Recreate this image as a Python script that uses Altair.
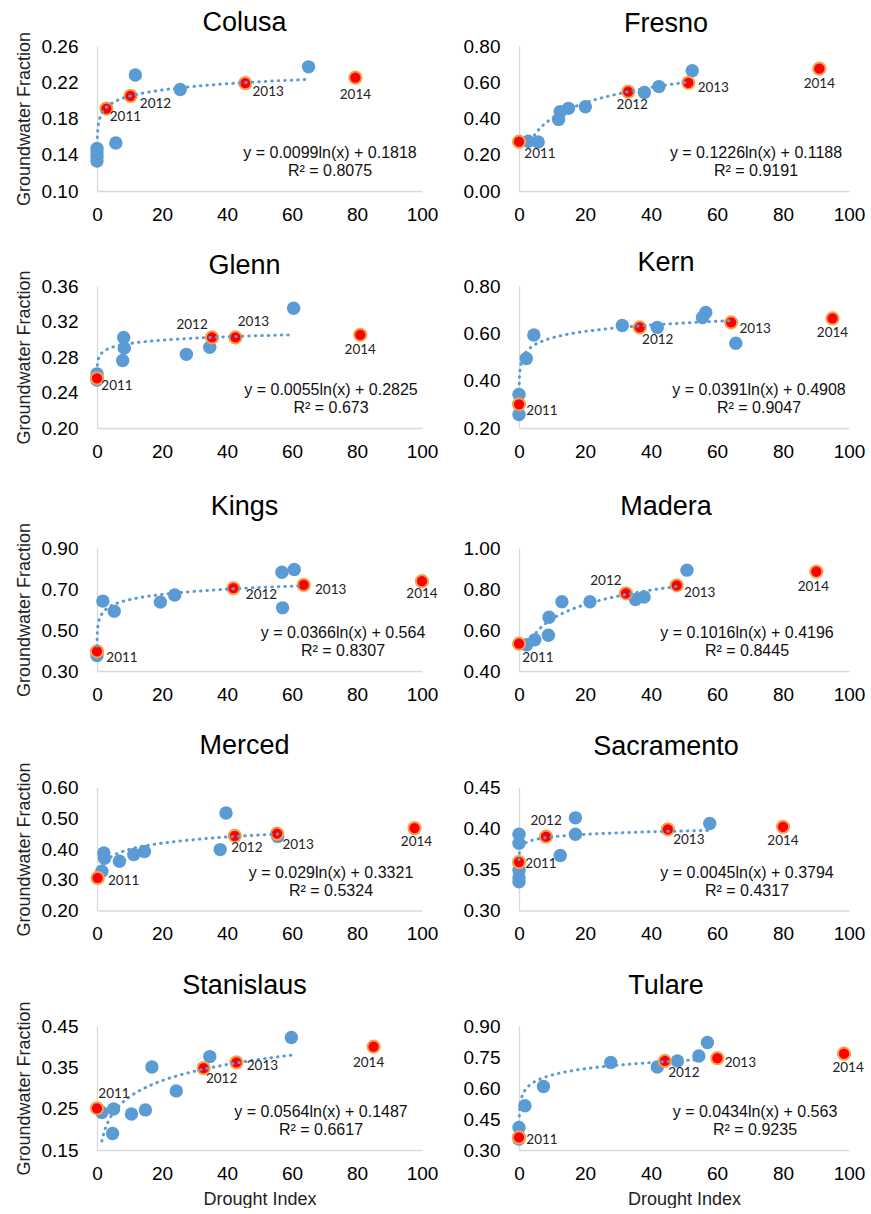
import altair as alt
import pandas as pd

# ---------------- data ----------------
COUNTIES = ["Colusa", "Fresno", "Glenn", "Kern", "Kings",
            "Madera", "Merced", "Sacramento", "Stanislaus", "Tulare"]

BLUE_X = {
    "Colusa": [0, 0, 0, 0, 5.8, 11.8, 25.6, 65.1],
    "Fresno": [2.8, 5.8, 12.0, 12.5, 15.0, 20.1, 38.0, 42.4, 52.5],
    "Glenn": [0, 0, 7.9, 8.2, 8.4, 27.5, 34.7, 60.5],
    "Kern": [0, 0, 2.2, 4.5, 31.3, 41.9, 55.6, 56.6, 65.7],
    "Kings": [0, 1.8, 5.3, 19.5, 23.9, 56.9, 60.7, 57.1],
    "Madera": [2.3, 4.8, 8.9, 9.1, 13.0, 21.5, 35.3, 37.9, 50.9],
    "Merced": [1.5, 2.1, 2.3, 6.9, 11.3, 14.6, 37.9, 39.7, 55.6],
    "Sacramento": [0, 0, 0, 0, 0, 12.5, 17.1, 17.1, 57.8],
    "Stanislaus": [1.5, 5.1, 4.8, 10.6, 14.9, 16.9, 24.4, 34.7, 59.8],
    "Tulare": [0, 0, 1.8, 7.4, 27.8, 41.9, 48.0, 54.5, 57.1],
}
BLUE_Y = {
    "Colusa": [0.147, 0.143, 0.138, 0.133, 0.153, 0.228, 0.212, 0.237],
    "Fresno": [0.275, 0.270, 0.395, 0.438, 0.456, 0.465, 0.543, 0.576, 0.664],
    "Glenn": [0.261, 0.254, 0.276, 0.302, 0.290, 0.283, 0.291, 0.335],
    "Kern": [0.342, 0.257, 0.494, 0.593, 0.633, 0.625, 0.667, 0.688, 0.558],
    "Kings": [0.376, 0.641, 0.592, 0.636, 0.671, 0.782, 0.795, 0.608],
    "Madera": [0.528, 0.552, 0.574, 0.662, 0.738, 0.738, 0.749, 0.761, 0.892],
    "Merced": [0.328, 0.387, 0.370, 0.360, 0.382, 0.392, 0.398, 0.517, 0.441],
    "Sacramento": [0.393, 0.382, 0.349, 0.340, 0.335, 0.367, 0.413, 0.393, 0.406],
    "Stanislaus": [0.241, 0.249, 0.190, 0.237, 0.247, 0.351, 0.293, 0.376, 0.422],
    "Tulare": [0.409, 0.353, 0.514, 0.607, 0.723, 0.702, 0.731, 0.755, 0.820],
}

YEARS = ["2011", "2012", "2013", "2014"]
RED_X = {
    "Colusa": [2.9, 10.3, 45.6, 79.5],
    "Fresno": [0, 33.1, 51.3, 91.0],
    "Glenn": [0, 35.4, 42.6, 81.0],
    "Kern": [0, 36.6, 64.3, 95.0],
    "Kings": [0, 42.0, 63.6, 100.0],
    "Madera": [0, 32.4, 47.8, 90.1],
    "Merced": [0.2, 42.4, 55.4, 97.7],
    "Sacramento": [0, 8.2, 45.1, 80.0],
    "Stanislaus": [0, 32.8, 42.9, 85.1],
    "Tulare": [0, 44.2, 60.1, 98.5],
}
RED_Y = {
    "Colusa": [0.191, 0.205, 0.219, 0.225],
    "Fresno": [0.272, 0.548, 0.597, 0.675],
    "Glenn": [0.256, 0.302, 0.302, 0.305],
    "Kern": [0.300, 0.625, 0.646, 0.663],
    "Kings": [0.396, 0.704, 0.720, 0.738],
    "Madera": [0.533, 0.779, 0.818, 0.885],
    "Merced": [0.306, 0.443, 0.450, 0.468],
    "Sacramento": [0.359, 0.390, 0.399, 0.402],
    "Stanislaus": [0.251, 0.348, 0.362, 0.400],
    "Tulare": [0.361, 0.731, 0.744, 0.766],
}

# logarithmic trend lines as printed on the chart: y = a ln(x) + b
TREND_A = {"Colusa": 0.0099, "Fresno": 0.1226, "Glenn": 0.0055, "Kern": 0.0391,
           "Kings": 0.0366, "Madera": 0.1016, "Merced": 0.029, "Sacramento": 0.0045,
           "Stanislaus": 0.0564, "Tulare": 0.0434}
TREND_B = {"Colusa": 0.1818, "Fresno": 0.1188, "Glenn": 0.2825, "Kern": 0.4908,
           "Kings": 0.564, "Madera": 0.4196, "Merced": 0.3321, "Sacramento": 0.3794,
           "Stanislaus": 0.1487, "Tulare": 0.563}
TREND_R2 = {"Colusa": "0.8075", "Fresno": "0.9191", "Glenn": "0.673", "Kern": "0.9047",
            "Kings": "0.8307", "Madera": "0.8445", "Merced": "0.5324", "Sacramento": "0.4317",
            "Stanislaus": "0.6617", "Tulare": "0.9235"}
TREND_B_TXT = {"Colusa": "0.1818", "Fresno": "0.1188", "Glenn": "0.2825", "Kern": "0.4908",
               "Kings": "0.564", "Madera": "0.4196", "Merced": "0.3321", "Sacramento": "0.3794",
               "Stanislaus": "0.1487", "Tulare": "0.563"}
TREND_RANGE = {"Colusa": [0.1, 64], "Fresno": [2.8, 52], "Glenn": [0.12, 60],
               "Kern": [0.07, 65], "Kings": [0.02, 63.6], "Madera": [2.3, 49],
               "Merced": [1.5, 55.6], "Sacramento": [0.02, 57.8],
               "Stanislaus": [1.5, 59.8], "Tulare": [0.05, 57]}

Y_TICKS = {
    "Colusa": [0.10, 0.14, 0.18, 0.22, 0.26],
    "Fresno": [0.0, 0.2, 0.4, 0.6, 0.8],
    "Glenn": [0.20, 0.24, 0.28, 0.32, 0.36],
    "Kern": [0.2, 0.4, 0.6, 0.8],
    "Kings": [0.3, 0.5, 0.7, 0.9],
    "Madera": [0.4, 0.6, 0.8, 1.0],
    "Merced": [0.2, 0.3, 0.4, 0.5, 0.6],
    "Sacramento": [0.30, 0.35, 0.40, 0.45],
    "Stanislaus": [0.15, 0.25, 0.35, 0.45],
    "Tulare": [0.30, 0.45, 0.60, 0.75, 0.90],
}
X_TICKS = [0, 20, 40, 60, 80, 100]

# ---------------- layout / style (not data) ----------------
# year-label offsets (dx, dy) in pixels from the marker centre
LABEL_OFF = {
    "Colusa": [(19, 8), (25, 8), (23, 9), (0, 17)],
    "Fresno": [(21, 12), (4, 13), (25, 5), (0, 15)],
    "Glenn": [(20, 8), (-20, -12), (18, -15), (0, 15)],
    "Kern": [(23, 7), (18, 13), (24, 7), (0, 15)],
    "Kings": [(25, 7), (28, 7), (27, 5), (0, 13)],
    "Madera": [(19, 14), (-20, -12), (23, 8), (-3, 15)],
    "Merced": [(26, 3), (12, 12), (21, 11), (2, 14)],
    "Sacramento": [(22, 2), (0, -16), (21, 11), (0, 14)],
    "Stanislaus": [(17, -14), (18, 11), (26, 4), (-5, 16)],
    "Tulare": [(23, 3), (19, 12), (23, 5), (4, 14)],
}
EQ_X = {"Colusa": 233, "Fresno": 237, "Glenn": 234, "Kern": 240, "Kings": 246,
        "Madera": 228, "Merced": 234, "Sacramento": 228, "Stanislaus": 224, "Tulare": 236}
ROW_H = [145, 142, 123, 123, 124]
# title offsets: left panels are measured from the top of the rotated axis title,
# right panels from the top of the highest tick label
TITLE_OFF_LEFT = [-6, -10.2, 1.3, 1.5, 1.1]
TITLE_OFF_RIGHT = [-0.5, -0.2, 17.8, 18, 17.1]

BLUE = "#5B9BD5"
RED = "#FF0000"
RING = "#F6A04D"
FONT = "Liberation Sans"
LABEL_FONT = "Lato"


def panel(i, name):
    left = (i % 2 == 0)
    row = i // 2
    bottom = (row == 4)
    w = 325 if left else 330
    h = ROW_H[row]
    ticks = Y_TICKS[name]

    xaxis = alt.Axis(values=X_TICKS, format="d",
                     title="Drought Index" if bottom else None)
    yaxis = alt.Axis(values=ticks, format=".2f",
                     title="Groundwater Fraction" if left else None)
    xs = alt.Scale(domain=[0, 100], nice=False, zero=False)
    ys = alt.Scale(domain=[ticks[0], ticks[-1]], nice=False, zero=False)
    X = alt.X("x:Q", scale=xs, axis=xaxis)
    Y = alt.Y("y:Q", scale=ys, axis=yaxis)

    blue_df = pd.DataFrame({"x": BLUE_X[name], "y": BLUE_Y[name]})
    red_df = pd.DataFrame({"x": RED_X[name], "y": RED_Y[name], "year": YEARS})

    blue = alt.Chart(blue_df).mark_circle(color=BLUE, opacity=1, size=180).encode(x=X, y=Y)
    red = alt.Chart(red_df).mark_circle(color=RED, opacity=1, size=150,
                                        stroke=RING, strokeWidth=2).encode(x=X, y=Y)

    x0, x1 = TREND_RANGE[name]
    a, b = TREND_A[name], TREND_B[name]
    trend = (
        alt.Chart(alt.sequence(0, 1.0001, 0.005, as_="t"))
        .transform_calculate(x=f"exp(log({x0}) + datum.t*(log({x1})-log({x0})))")
        .transform_calculate(y=f"{a}*log(datum.x)+{b}")
        .mark_line(color=BLUE, strokeWidth=3, strokeDash=[0.5, 6], strokeCap="round")
        .encode(x=X, y=Y)
    )

    layers = [blue, red, trend]
    for k, yr in enumerate(YEARS):
        dx, dy = LABEL_OFF[name][k]
        one = red_df.iloc[[k]]
        layers.append(
            alt.Chart(one).mark_text(font=LABEL_FONT, fontSize=13.5, color="#222",
                                     align="center", baseline="middle", dx=dx, dy=dy)
            .encode(x=X, y=Y, text="year:N")
        )

    eq = f"y = {a}ln(x) + {TREND_B_TXT[name]}"
    r2 = f"R² = {TREND_R2[name]}"
    for txt, off in [(eq, 38), (r2, 20)]:
        layers.append(
            alt.Chart(pd.DataFrame({"t": [txt]})).mark_text(
                font=FONT, fontSize=16, color="#111", align="center", baseline="middle")
            .encode(x=alt.value(EQ_X[name]), y=alt.value(h - off), text="t:N")
        )

    return alt.layer(*layers).properties(
        width=w, height=h,
        title=alt.TitleParams(name, font=FONT, fontSize=27, fontWeight="normal",
                              color="black", anchor="middle", frame="group",
                              dx=-15 if left else -18,
                              offset=TITLE_OFF_LEFT[row] if left else TITLE_OFF_RIGHT[row]),
    )


rows = []
for r in range(5):
    rows.append(alt.hconcat(panel(2 * r, COUNTIES[2 * r]),
                            panel(2 * r + 1, COUNTIES[2 * r + 1]), spacing=25))

top_block = alt.vconcat(rows[0], rows[1], spacing=25)
bottom_block = alt.vconcat(rows[2], rows[3], rows[4], spacing=27.5)

chart = (
    alt.vconcat(top_block, bottom_block, spacing=32)
    .properties(padding={"left": 15, "top": 9, "right": 0, "bottom": 0})
    .configure_view(stroke=None)
    .configure_axis(
        grid=False, ticks=False, tickSize=0, labelFlush=False,
        domainColor="#D9D9D9", domainWidth=1.3,
        labelFont=FONT, labelFontSize=19, labelColor="#000",
        titleFont=FONT, titleFontSize=18, titleFontWeight="normal", titleColor="#222",
    )
    .configure_axisX(labelPadding=14, titlePadding=7)
    .configure_axisY(labelPadding=19, titlePadding=8)
)

chart.save("out.html", embed_options={"renderer": "svg", "actions": False})
